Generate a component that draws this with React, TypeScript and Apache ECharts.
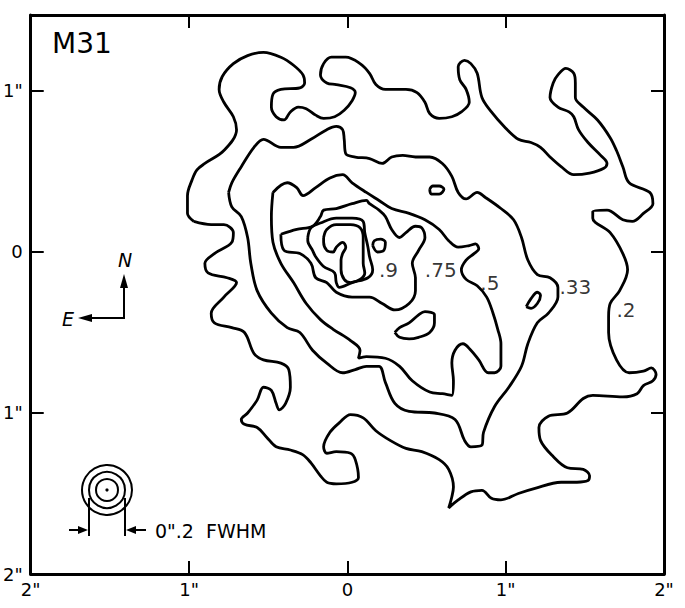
import React, { useEffect, useRef } from 'react';
import * as echarts from 'echarts';

type Pt = [number, number];

// Axis extents (arcsec offsets from the nucleus)
const X_MIN = -2;
const X_MAX = 2;
const Y_MIN = -2;
const Y_MAX = 1.472;

// Contour levels (outer to inner), coordinates in arcsec
const contour20: Pt[] = [
  [-0.97, 0.19], [-1.01, 0.24], [-1.01, 0.35], [-0.98, 0.45], [-0.95, 0.51], [-0.9, 0.55], [-0.78, 0.63], [-0.7, 0.76],
  [-0.72, 0.84], [-0.78, 0.93], [-0.81, 1.01], [-0.79, 1.09], [-0.72, 1.17], [-0.63, 1.22], [-0.53, 1.24], [-0.42, 1.21],
  [-0.34, 1.16], [-0.28, 1.1], [-0.27, 1.05], [-0.3, 1.02], [-0.42, 1.01], [-0.47, 0.98], [-0.48, 0.9], [-0.45, 0.84],
  [-0.4, 0.82], [-0.36, 0.87], [-0.31, 0.9], [-0.26, 0.89], [-0.2, 0.85], [-0.15, 0.83], [-0.08, 0.84], [-0.02, 0.88],
  [0.03, 0.94], [0.05, 0.99], [0.02, 1.02], [-0.07, 1.04], [-0.13, 1.05], [-0.17, 1.1], [-0.15, 1.17], [-0.1, 1.21],
  [-0.01, 1.21], [0.08, 1.17], [0.14, 1.11], [0.18, 1.04], [0.24, 1.01], [0.37, 1.01], [0.44, 0.99], [0.49, 0.93],
  [0.52, 0.86], [0.58, 0.83], [0.66, 0.84], [0.72, 0.87], [0.77, 0.93], [0.75, 1.01], [0.71, 1.07], [0.7, 1.15],
  [0.74, 1.19], [0.78, 1.17], [0.82, 1.11], [0.85, 0.96], [0.91, 0.87], [0.99, 0.78], [1.08, 0.7], [1.16, 0.68],
  [1.22, 0.65], [1.28, 0.59], [1.35, 0.53], [1.43, 0.48], [1.53, 0.49], [1.62, 0.52], [1.64, 0.55], [1.6, 0.6],
  [1.52, 0.68], [1.46, 0.76], [1.43, 0.84], [1.4, 0.87], [1.33, 0.9], [1.28, 0.96], [1.3, 1.05], [1.33, 1.1],
  [1.38, 1.14], [1.43, 1.11], [1.44, 1.05], [1.44, 0.96], [1.49, 0.9], [1.58, 0.82], [1.66, 0.71], [1.7, 0.63],
  [1.74, 0.53], [1.78, 0.43], [1.91, 0.37], [1.93, 0.3], [1.87, 0.24], [1.8, 0.19], [1.74, 0.2], [1.64, 0.26],
  [1.55, 0.25], [1.55, 0.21], [1.66, 0.12], [1.74, -0.01], [1.77, -0.11], [1.72, -0.24], [1.66, -0.32], [1.65, -0.4],
  [1.65, -0.5], [1.7, -0.67], [1.78, -0.75], [1.87, -0.74], [1.92, -0.72], [1.95, -0.76], [1.93, -0.8], [1.87, -0.83],
  [1.83, -0.88], [1.74, -0.9], [1.55, -0.89], [1.49, -0.91], [1.39, -1.0], [1.27, -1.02], [1.21, -1.09], [1.22, -1.17],
  [1.3, -1.27], [1.39, -1.34], [1.49, -1.35], [1.53, -1.39], [1.52, -1.42], [1.45, -1.43], [1.35, -1.43], [1.18, -1.47],
  [1.08, -1.5], [0.97, -1.54], [0.91, -1.53], [0.85, -1.48], [0.78, -1.49], [0.7, -1.54], [0.64, -1.59], [0.66, -1.52],
  [0.67, -1.46], [0.64, -1.35], [0.58, -1.29], [0.47, -1.24], [0.37, -1.22], [0.27, -1.17], [0.18, -1.11], [0.1, -1.03],
  [0.02, -1.01], [-0.05, -1.06], [-0.11, -1.12], [-0.15, -1.21], [-0.13, -1.25], [-0.07, -1.24], [0.02, -1.25], [0.05, -1.29],
  [0.07, -1.4], [0.03, -1.43], [-0.07, -1.44], [-0.13, -1.43], [-0.17, -1.39], [-0.23, -1.31], [-0.28, -1.26], [-0.36, -1.23],
  [-0.45, -1.21], [-0.51, -1.15], [-0.57, -1.09], [-0.65, -1.07], [-0.67, -1.04], [-0.63, -1.0], [-0.57, -0.92], [-0.53, -0.84],
  [-0.48, -0.86], [-0.45, -0.94], [-0.43, -0.98], [-0.39, -0.94], [-0.36, -0.84], [-0.37, -0.73], [-0.42, -0.69], [-0.53, -0.67],
  [-0.59, -0.63], [-0.65, -0.5], [-0.73, -0.47], [-0.84, -0.44], [-0.86, -0.38], [-0.78, -0.28], [-0.7, -0.19], [-0.76, -0.16],
  [-0.88, -0.13], [-0.9, -0.07], [-0.84, -0.01], [-0.73, 0.06], [-0.72, 0.12], [-0.78, 0.17], [-0.86, 0.17],
];

const contour33: Pt[] = [
  [-0.75, 0.37], [-0.73, 0.28], [-0.67, 0.22], [-0.63, 0.09], [-0.61, -0.07], [-0.57, -0.24], [-0.48, -0.38], [-0.38, -0.47],
  [-0.3, -0.5], [-0.22, -0.61], [-0.13, -0.69], [-0.03, -0.75], [0.05, -0.73], [0.12, -0.71], [0.2, -0.71], [0.24, -0.81],
  [0.3, -0.94], [0.39, -0.99], [0.55, -1.0], [0.68, -1.04], [0.74, -1.17], [0.78, -1.21], [0.85, -1.2], [0.86, -1.12],
  [0.93, -0.96], [1.02, -0.84], [1.1, -0.71], [1.14, -0.57], [1.2, -0.44], [1.27, -0.38], [1.33, -0.28], [1.33, -0.22],
  [1.28, -0.16], [1.2, -0.14], [1.14, -0.05], [1.1, 0.09], [1.05, 0.2], [0.97, 0.27], [0.87, 0.34], [0.82, 0.37],
  [0.75, 0.33], [0.7, 0.37], [0.66, 0.47], [0.6, 0.55], [0.52, 0.59], [0.43, 0.59], [0.35, 0.6], [0.28, 0.59],
  [0.22, 0.55], [0.14, 0.58], [0.05, 0.59], [-0.01, 0.61], [-0.02, 0.7], [-0.03, 0.76], [-0.07, 0.78], [-0.13, 0.76],
  [-0.23, 0.7], [-0.34, 0.65], [-0.42, 0.65], [-0.53, 0.7], [-0.59, 0.65], [-0.67, 0.53], [-0.73, 0.43],
];

const contour50: Pt[] = [
  [-0.47, 0.37], [-0.38, 0.43], [-0.32, 0.4], [-0.28, 0.35], [-0.2, 0.4], [-0.11, 0.46], [-0.03, 0.48], [0.03, 0.43],
  [0.12, 0.37], [0.2, 0.32], [0.28, 0.27], [0.39, 0.24], [0.49, 0.2], [0.58, 0.14], [0.64, 0.07], [0.7, 0.03],
  [0.77, 0.04], [0.81, 0.05], [0.83, 0.02], [0.8, -0.01], [0.75, -0.05], [0.72, -0.11], [0.75, -0.17], [0.82, -0.21],
  [0.88, -0.28], [0.92, -0.38], [0.95, -0.48], [0.97, -0.57], [0.97, -0.71], [0.93, -0.75], [0.89, -0.75], [0.83, -0.67],
  [0.78, -0.61], [0.73, -0.57], [0.68, -0.61], [0.66, -0.69], [0.67, -0.8], [0.66, -0.89], [0.6, -0.88], [0.52, -0.87],
  [0.41, -0.8], [0.33, -0.71], [0.24, -0.66], [0.12, -0.65], [0.07, -0.66], [0.08, -0.61], [0.02, -0.55], [-0.09, -0.48],
  [-0.17, -0.42], [-0.26, -0.32], [-0.34, -0.19], [-0.42, -0.07], [-0.47, 0.06], [-0.48, 0.22],
];

const contour75: Pt[] = [
  [-0.42, 0.11], [-0.4, 0.01], [-0.3, -0.01], [-0.23, -0.07], [-0.2, -0.16], [-0.13, -0.19], [-0.07, -0.25], [0.03, -0.28],
  [0.14, -0.28], [0.22, -0.32], [0.3, -0.36], [0.39, -0.32], [0.43, -0.24], [0.43, -0.16], [0.41, -0.07], [0.45, 0.01],
  [0.49, 0.09], [0.47, 0.15], [0.43, 0.16], [0.37, 0.12], [0.33, 0.09], [0.28, 0.14], [0.24, 0.22], [0.2, 0.26],
  [0.14, 0.3], [0.12, 0.32], [0.03, 0.3], [-0.07, 0.27], [-0.15, 0.26], [-0.17, 0.22], [-0.22, 0.16], [-0.32, 0.14],
];

const contour90: Pt[] = [
  [-0.25, 0.09], [-0.23, 0.15], [-0.17, 0.18], [-0.07, 0.21], [0.03, 0.21], [0.1, 0.19], [0.11, 0.12], [0.13, 0.03],
  [0.14, -0.03], [0.16, -0.11], [0.13, -0.16], [0.03, -0.19], [-0.05, -0.22], [-0.07, -0.19], [-0.08, -0.13], [-0.15, -0.09],
  [-0.2, -0.03], [-0.22, 0.01], [-0.25, 0.07],
];

const contourPeak: Pt[] = [
  [-0.15, 0.09], [-0.13, 0.14], [-0.07, 0.17], [0.02, 0.17], [0.08, 0.15], [0.1, 0.09], [0.1, 0.01], [0.1, -0.07],
  [0.11, -0.13], [0.08, -0.17], [0.02, -0.19], [-0.02, -0.17], [-0.04, -0.11], [-0.04, -0.05], [-0.03, -0.01], [-0.01, 0.03],
  [-0.03, 0.06], [-0.07, 0.03], [-0.09, 0.0], [-0.13, 0.01], [-0.15, 0.06],
];

// Small closed islands
const island90: Pt[] = [[0.16, 0.04], [0.17, 0.07], [0.21, 0.08], [0.24, 0.06], [0.23, 0.01], [0.19, 0.0]];
const island75: Pt[] = [
  [0.3, -0.5], [0.33, -0.47], [0.39, -0.44], [0.45, -0.39], [0.49, -0.37], [0.55, -0.39], [0.55, -0.44], [0.52, -0.5],
  [0.45, -0.53], [0.39, -0.54], [0.33, -0.53],
];
const island50: Pt[] = [[0.52, 0.39], [0.54, 0.41], [0.58, 0.41], [0.61, 0.39], [0.58, 0.36], [0.53, 0.36]];
const island33: Pt[] = [[1.13, -0.34], [1.16, -0.29], [1.2, -0.25], [1.22, -0.27], [1.2, -0.32], [1.16, -0.35]];

const contours: Pt[][] = [
  contour20, contour33, contour50, contour75, contour90, contourPeak,
  island90, island75, island50, island33,
];

// Level labels
const levelLabels = ['.9', '.75', '.5', '.33', '.2'];
const labelX = [0.26, 0.59, 0.9, 1.44, 1.76];
const labelY = [-0.11, -0.11, -0.19, -0.22, -0.36];

const FONT = '"DejaVu Sans", "Liberation Sans", sans-serif';

const fmt = (v: number) => {
  if (Math.abs(v - Math.round(v)) > 1e-6) return '';
  return v === 0 ? '0' : `${Math.abs(v)}"`;
};

export default function App() {
  const ref = useRef<HTMLDivElement>(null);

  useEffect(() => {
    if (!ref.current) return;
    const chart = echarts.init(ref.current, undefined, { renderer: 'svg' });

    const axisLine = { show: true, onZero: false, lineStyle: { color: '#000', width: 3 } };
    const axisTick = { show: true, inside: true, length: 13, lineStyle: { color: '#000', width: 2 } };

    const lineSeries = contours.map((c) => ({
      type: 'line',
      data: [...c, c[0]],
      xAxisIndex: 0,
      yAxisIndex: 0,
      showSymbol: false,
      symbol: 'none',
      smooth: 0.35,
      silent: true,
      lineStyle: { color: '#000', width: 2.8 },
      z: 3,
    }));

    const labelSeries = {
      type: 'scatter',
      xAxisIndex: 0,
      yAxisIndex: 0,
      symbolSize: 1,
      silent: true,
      itemStyle: { color: 'rgba(0,0,0,0)' },
      data: levelLabels.map((t, i) => [labelX[i], labelY[i], t]),
      label: {
        show: true,
        position: 'inside',
        formatter: (p: any) => p.data[2],
        color: '#000',
        fontSize: 20,
        fontFamily: FONT,
      },
      z: 4,
    };

    const g: any[] = [
      { type: 'text', x: 52, y: 43, style: { text: 'M31', font: `28px ${FONT}`, fill: '#000', textAlign: 'left', textVerticalAlign: 'middle' } },
      // Compass
      { type: 'line', shape: { x1: 124, y1: 318, x2: 124, y2: 284 }, style: { stroke: '#000', lineWidth: 2 } },
      { type: 'polygon', shape: { points: [[124, 274], [120, 288], [128, 288]] }, style: { fill: '#000' } },
      { type: 'line', shape: { x1: 125, y1: 318, x2: 88, y2: 318 }, style: { stroke: '#000', lineWidth: 2 } },
      { type: 'polygon', shape: { points: [[78, 318], [92, 314], [92, 322]] }, style: { fill: '#000' } },
      { type: 'text', x: 125, y: 260, style: { text: 'N', font: `italic 19px ${FONT}`, fill: '#000', textAlign: 'center', textVerticalAlign: 'middle' } },
      { type: 'text', x: 68, y: 319, style: { text: 'E', font: `italic 19px ${FONT}`, fill: '#000', textAlign: 'center', textVerticalAlign: 'middle' } },
      // Beam
      { type: 'circle', shape: { cx: 107, cy: 490, r: 25 }, style: { fill: 'none', stroke: '#000', lineWidth: 2 } },
      { type: 'circle', shape: { cx: 107, cy: 490, r: 18 }, style: { fill: 'none', stroke: '#000', lineWidth: 2 } },
      { type: 'circle', shape: { cx: 107, cy: 490, r: 11 }, style: { fill: 'none', stroke: '#000', lineWidth: 2 } },
      { type: 'circle', shape: { cx: 107, cy: 490, r: 1.6 }, style: { fill: '#000' } },
      { type: 'line', shape: { x1: 89, y1: 498, x2: 89, y2: 536 }, style: { stroke: '#000', lineWidth: 2 } },
      { type: 'line', shape: { x1: 125, y1: 498, x2: 125, y2: 536 }, style: { stroke: '#000', lineWidth: 2 } },
      { type: 'line', shape: { x1: 69, y1: 530, x2: 82, y2: 530 }, style: { stroke: '#000', lineWidth: 2 } },
      { type: 'polygon', shape: { points: [[88, 530], [78, 526], [78, 534]] }, style: { fill: '#000' } },
      { type: 'line', shape: { x1: 146, y1: 530, x2: 132, y2: 530 }, style: { stroke: '#000', lineWidth: 2 } },
      { type: 'polygon', shape: { points: [[126, 530], [136, 526], [136, 534]] }, style: { fill: '#000' } },
      { type: 'text', x: 155, y: 531, style: { text: '0".2  FWHM', font: `19px ${FONT}`, fill: '#000', textAlign: 'left', textVerticalAlign: 'middle' } },
    ];

    chart.setOption({
      animation: false,
      backgroundColor: '#fff',
      grid: { left: 25, right: 21, top: 15, bottom: 34, containLabel: false },
      xAxis: [
        {
          type: 'value', min: X_MIN, max: X_MAX, interval: 1, position: 'bottom',
          axisLine, axisTick, splitLine: { show: false },
          axisLabel: { formatter: fmt, color: '#000', fontSize: 18, margin: 6, fontFamily: FONT },
        },
        {
          type: 'value', min: X_MIN, max: X_MAX, interval: 1, position: 'top',
          axisLine, axisTick, splitLine: { show: false }, axisLabel: { show: false },
        },
      ],
      yAxis: [
        {
          type: 'value', min: Y_MIN, max: Y_MAX, interval: 1, position: 'left',
          axisLine, axisTick, splitLine: { show: false },
          axisLabel: { formatter: fmt, color: '#000', fontSize: 18, margin: 8, fontFamily: FONT, showMaxLabel: false },
        },
        {
          type: 'value', min: Y_MIN, max: Y_MAX, interval: 1, position: 'right',
          axisLine, axisTick, splitLine: { show: false }, axisLabel: { show: false },
        },
      ],
      series: [...lineSeries, labelSeries],
      graphic: g,
    });

    return () => chart.dispose();
  }, []);

  return (
    <div
      ref={ref}
      style={{ position: 'absolute', left: 0, top: 0, width: 685, height: 608, background: '#fff' }}
    />
  );
}
